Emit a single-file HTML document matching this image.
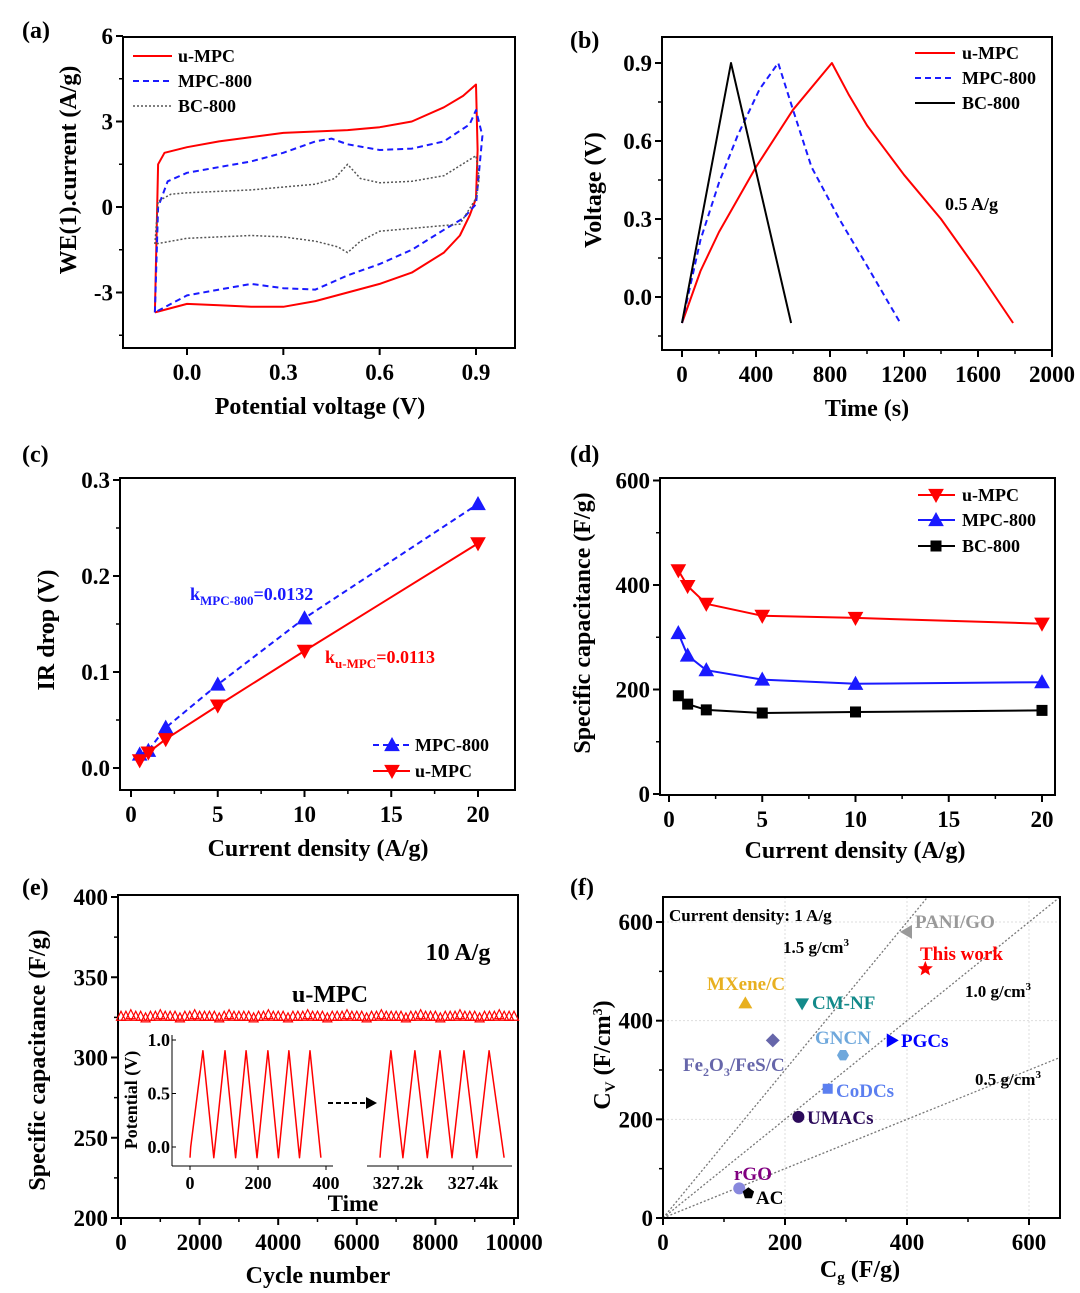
<!DOCTYPE html>
<html><head><meta charset="utf-8"><style>
body{margin:0;background:#fff;}
svg{display:block;font-family:"Liberation Serif",serif;font-weight:bold;}
</style></head><body>
<svg id="fig" width="1080" height="1293" viewBox="0 0 1080 1293" xmlns="http://www.w3.org/2000/svg"></svg>
<script>
// ---------- data ----------
// (a) CV loops
const cvUX=[-0.1,-0.09,-0.07,0,0.1,0.3,0.5,0.6,0.7,0.8,0.86,0.9,0.905,0.9,0.88,0.85,0.8,0.7,0.6,0.5,0.4,0.3,0.2,0.1,0,-0.1];
const cvUY=[-3.7,1.5,1.9,2.1,2.3,2.6,2.7,2.8,3.0,3.5,3.9,4.3,2.0,0.3,-0.3,-1.0,-1.6,-2.3,-2.7,-3.0,-3.3,-3.5,-3.5,-3.45,-3.4,-3.7];
const cvMX=[-0.1,-0.09,-0.06,0,0.1,0.2,0.3,0.4,0.45,0.5,0.6,0.7,0.8,0.88,0.9,0.92,0.9,0.86,0.8,0.7,0.6,0.5,0.4,0.3,0.2,0.1,0,-0.1];
const cvMY=[-3.7,0,0.9,1.2,1.4,1.6,1.9,2.3,2.4,2.2,2.0,2.05,2.3,2.9,3.4,2.5,0.1,-0.4,-0.8,-1.5,-2.0,-2.4,-2.9,-2.85,-2.7,-2.9,-3.1,-3.7];
const cvBX=[-0.1,-0.09,-0.05,0,0.2,0.4,0.46,0.5,0.54,0.6,0.7,0.8,0.9,0.91,0.9,0.85,0.7,0.6,0.54,0.5,0.47,0.4,0.3,0.2,0.1,0,-0.1];
const cvBY=[-1.3,0.2,0.45,0.5,0.6,0.8,1.0,1.5,1.0,0.85,0.9,1.1,1.8,1.0,0.3,-0.6,-0.75,-0.85,-1.2,-1.6,-1.4,-1.2,-1.05,-1.0,-1.05,-1.1,-1.3];
// (b) GCD
const gcdBX=[0,265,590], gcdBY=[-0.1,0.9,-0.1];
const gcdMX=[0,100,200,300,420,520,600,700,850,1000,1180];
const gcdMY=[-0.1,0.22,0.44,0.62,0.8,0.9,0.72,0.5,0.3,0.12,-0.1];
const gcdUX=[0,100,200,400,600,810,900,1000,1200,1400,1600,1790];
const gcdUY=[-0.1,0.1,0.25,0.5,0.72,0.9,0.78,0.66,0.47,0.3,0.1,-0.1];
// (c) IR drop
const cDens=[0.5,1,2,5,10,20];
const irMPC=[0.014,0.018,0.042,0.087,0.156,0.275];
const irU=[0.008,0.016,0.03,0.065,0.122,0.234];
// (d) specific capacitance
const dDens=[0.5,1,2,5,10,20];
const capU=[428,398,364,341,337,326];
const capM=[308,265,237,219,211,214];
const capB=[188,172,161,155,157,160];
// (e) cycling
const cycVals=[326,326,327,326,326,325,326,326,327,326,326,326,325,326,326,327,326,326,326,326,325,326,327,326,326,326,326,325,326,326,327,326,326,326,325,326,326,326,327,326,326,326,325,326,326,326,327,326,326,326,325,326,326,327,326,326,326,326,325,326,326,327,326,326,326,325,326,326,326,327,326,326,326,325,326,326,326,327,326,326,326];
const inLT=[0,2,38,70,103,134,165,197,229,260,291,322,353,385];
const inLV=[-0.1,0.0,0.9,-0.1,0.9,-0.1,0.9,-0.1,0.9,-0.1,0.9,-0.1,0.9,-0.1];
const inRT=[327152,327154,327181,327213,327245,327278,327312,327344,327376,327410,327443,327483];
const inRV=[-0.1,0.0,0.9,-0.1,0.9,-0.1,0.9,-0.1,0.9,-0.1,0.9,-0.1];
// (f) comparison
const fNames=["PANI/GO","This work","MXene/C","CM-NF","Fe2O3/FeS/C","GNCN","PGCs","CoDCs","UMACs","rGO","AC"];
const fCg=[400,430,135,228,180,295,375,270,222,125,140];
const fCv=[580,505,435,435,360,330,360,262,205,60,50];
const fDens=[1.5,1.0,0.5];

// ---------- helpers ----------
const NS="http://www.w3.org/2000/svg";
const svg=document.getElementById('fig');
const TF=23;
function mk(tag,attrs,name,inter,parent){
  const el=document.createElementNS(NS,tag);
  for(const k in attrs) el.setAttribute(k,attrs[k]);
  
  
  (parent||svg).appendChild(el);return el;
}
function txt(x,y,s,name,opt){
  opt=opt||{};
  const t=mk('text',{x:x,y:y,'font-size':opt.fs||TF,fill:opt.fill||'#000','text-anchor':opt.anchor||'start'},name,false);
  if(opt.rot) t.setAttribute('transform','rotate(-90 '+x+' '+y+')');
  t.innerHTML=s;return t;
}
function line(xs,ys,sx,sy,stroke,dash,name,w){
  const p=xs.map((v,i)=>sx(v).toFixed(1)+','+sy(ys[i]).toFixed(1)).join(' ');
  return mk('polyline',{points:p,fill:'none',stroke:stroke,'stroke-width':w||2,'stroke-dasharray':dash||'none','stroke-linejoin':'round'},name,false);
}
function frame(l,t,r,b,name){mk('rect',{x:l,y:t,width:r-l,height:b-t,fill:'none',stroke:'#000','stroke-width':2},name,false);}
function xTicks(vals,labels,sx,b,ly,name,minor){
  vals.forEach((v,i)=>{mk('line',{x1:sx(v),x2:sx(v),y1:b,y2:b+7,stroke:'#000','stroke-width':2},name+'-tick',false);
    txt(sx(v),ly,labels[i],name+'-label',{anchor:'middle'});});
  (minor||[]).forEach(v=>mk('line',{x1:sx(v),x2:sx(v),y1:b,y2:b+4,stroke:'#000','stroke-width':1.5},name+'-minor-tick',false));
}
function yTicks(vals,labels,sy,l,lx,name,minor){
  vals.forEach((v,i)=>{mk('line',{x1:l-7,x2:l,y1:sy(v),y2:sy(v),stroke:'#000','stroke-width':2},name+'-tick',false);
    txt(lx,sy(v)+8,labels[i],name+'-label',{anchor:'end'});});
  (minor||[]).forEach(v=>mk('line',{x1:l-4,x2:l,y1:sy(v),y2:sy(v),stroke:'#000','stroke-width':1.5},name+'-minor-tick',false));
}
function tri(x,y,s,up,fill,name){
  const d=up?`M${x},${y-s} L${x+s},${y+s*0.8} L${x-s},${y+s*0.8}Z`:`M${x},${y+s} L${x+s},${y-s*0.8} L${x-s},${y-s*0.8}Z`;
  return mk('path',{d:d,fill:fill,stroke:fill},name,false);
}

// ---------- (a) ----------
{const sx=v=>187+v*321.1, sy=v=>207-v*28.5;
frame(123,37,515,348,'panel-a-frame');
xTicks([0,0.3,0.6,0.9],['0.0','0.3','0.6','0.9'],sx,348,380,'a-x');
yTicks([6,3,0,-3],['6','3','0','-3'],sy,123,113,'a-y',[4.5,1.5,-1.5,-4.5]);
line(cvUX,cvUY,sx,sy,'#f00',null,'a-u-mpc-curve');
line(cvMX,cvMY,sx,sy,'#1a1aff','6,4','a-mpc-800-curve');
line(cvBX,cvBY,sx,sy,'#555','2,2','a-bc-800-curve',1.5);
mk('line',{x1:133,x2:172,y1:56,y2:56,stroke:'#f00','stroke-width':2},'a-legend-u-mpc-line',false);
mk('line',{x1:133,x2:172,y1:81,y2:81,stroke:'#1a1aff','stroke-width':2,'stroke-dasharray':'6,4'},'a-legend-mpc-line',false);
mk('line',{x1:133,x2:172,y1:106,y2:106,stroke:'#555','stroke-width':1.5,'stroke-dasharray':'2,2'},'a-legend-bc-line',false);
txt(178,62,'u-MPC','a-legend-u-mpc',{fs:18});txt(178,87,'MPC-800','a-legend-mpc-800',{fs:18});txt(178,112,'BC-800','a-legend-bc-800',{fs:18});
txt(320,414,'Potential voltage (V)','a-x-axis-title',{anchor:'middle',fs:24});
txt(76,170,'WE(1).current (A/g)','a-y-axis-title',{anchor:'middle',rot:1,fs:24});
txt(22,38,'(a)','panel-label-a',{fs:24});}

// ---------- (b) ----------
{const sx=v=>682+v*0.185, sy=v=>297-v*260;
frame(662,37,1052,350,'panel-b-frame');
xTicks([0,400,800,1200,1600,2000],['0','400','800','1200','1600','2000'],sx,350,382,'b-x',[200,600,1000,1400,1800]);
yTicks([0.9,0.6,0.3,0.0],['0.9','0.6','0.3','0.0'],sy,662,652,'b-y',[0.75,0.45,0.15,-0.15]);
line(gcdUX,gcdUY,sx,sy,'#f00',null,'b-u-mpc-curve');
line(gcdMX,gcdMY,sx,sy,'#1a1aff','6,4','b-mpc-800-curve');
line(gcdBX,gcdBY,sx,sy,'#000',null,'b-bc-800-curve');
mk('line',{x1:915,x2:955,y1:53,y2:53,stroke:'#f00','stroke-width':2},'b-legend-u-mpc-line',false);
mk('line',{x1:915,x2:955,y1:78,y2:78,stroke:'#1a1aff','stroke-width':2,'stroke-dasharray':'6,4'},'b-legend-mpc-line',false);
mk('line',{x1:915,x2:955,y1:103,y2:103,stroke:'#000','stroke-width':2},'b-legend-bc-line',false);
txt(962,59,'u-MPC','b-legend-u-mpc',{fs:18});txt(962,84,'MPC-800','b-legend-mpc-800',{fs:18});txt(962,109,'BC-800','b-legend-bc-800',{fs:18});
txt(945,210,'0.5 A/g','b-current-annotation',{fs:18});
txt(867,416,'Time (s)','b-x-axis-title',{anchor:'middle',fs:24});
txt(601,190,'Voltage (V)','b-y-axis-title',{anchor:'middle',rot:1,fs:24});
txt(570,48,'(b)','panel-label-b',{fs:24});}

// ---------- (c) ----------
{const sx=v=>131+v*17.35, sy=v=>768-v*960;
frame(120,478,515,790,'panel-c-frame');
xTicks([0,5,10,15,20],['0','5','10','15','20'],sx,790,822,'c-x',[2.5,7.5,12.5,17.5]);
yTicks([0.3,0.2,0.1,0.0],['0.3','0.2','0.1','0.0'],sy,120,110,'c-y',[0.25,0.15,0.05]);
line(cDens,irMPC,sx,sy,'#1a1aff','6,4','c-mpc-800-line');
line(cDens,irU,sx,sy,'#f00',null,'c-u-mpc-line');
cDens.forEach((d,i)=>tri(sx(d),sy(irMPC[i]),7,true,'#1a1aff','c-mpc-800-point'));
cDens.forEach((d,i)=>tri(sx(d),sy(irU[i]),7,false,'#f00','c-u-mpc-point'));
mk('line',{x1:373,x2:410,y1:745,y2:745,stroke:'#1a1aff','stroke-width':2,'stroke-dasharray':'6,4'},'c-legend-mpc-line',false);
tri(392,745,7,true,'#1a1aff','c-legend-mpc-marker');
mk('line',{x1:373,x2:410,y1:771,y2:771,stroke:'#f00','stroke-width':2},'c-legend-u-line',false);
tri(392,771,7,false,'#f00','c-legend-u-marker');
txt(415,751,'MPC-800','c-legend-mpc-800',{fs:18});txt(415,777,'u-MPC','c-legend-u-mpc',{fs:18});
txt(190,600,'k<tspan font-size="13" dy="5">MPC-800</tspan><tspan dy="-5">=0.0132</tspan>','c-slope-mpc-800',{fs:18,fill:'#1a1aff'});
txt(325,663,'k<tspan font-size="13" dy="5">u-MPC</tspan><tspan dy="-5">=0.0113</tspan>','c-slope-u-mpc',{fs:18,fill:'#f00'});
txt(318,856,'Current density (A/g)','c-x-axis-title',{anchor:'middle',fs:24});
txt(54,630,'IR drop (V)','c-y-axis-title',{anchor:'middle',rot:1,fs:24});
txt(22,462,'(c)','panel-label-c',{fs:24});}

// ---------- (d) ----------
{const sx=v=>669+v*18.65, sy=v=>794-v*0.5225;
frame(660,478,1055,795,'panel-d-frame');
xTicks([0,5,10,15,20],['0','5','10','15','20'],sx,795,827,'d-x',[2.5,7.5,12.5,17.5]);
yTicks([600,400,200,0],['600','400','200','0'],sy,660,650,'d-y',[500,300,100]);
line(dDens,capU,sx,sy,'#f00',null,'d-u-mpc-line');
line(dDens,capM,sx,sy,'#1a1aff',null,'d-mpc-800-line');
line(dDens,capB,sx,sy,'#000',null,'d-bc-800-line');
dDens.forEach((d,i)=>tri(sx(d),sy(capU[i]),7,false,'#f00','d-u-mpc-point'));
dDens.forEach((d,i)=>tri(sx(d),sy(capM[i]),7,true,'#1a1aff','d-mpc-800-point'));
dDens.forEach((d,i)=>mk('rect',{x:sx(d)-5.5,y:sy(capB[i])-5.5,width:11,height:11,fill:'#000'},'d-bc-800-point',false));
mk('line',{x1:918,x2:955,y1:495,y2:495,stroke:'#f00','stroke-width':2},'d-legend-u-line',false);
tri(936,495,7,false,'#f00','d-legend-u-marker');
mk('line',{x1:918,x2:955,y1:520,y2:520,stroke:'#1a1aff','stroke-width':2},'d-legend-mpc-line',false);
tri(936,520,7,true,'#1a1aff','d-legend-mpc-marker');
mk('line',{x1:918,x2:955,y1:546,y2:546,stroke:'#000','stroke-width':2},'d-legend-bc-line',false);
mk('rect',{x:930.5,y:540.5,width:11,height:11,fill:'#000'},'d-legend-bc-marker',false);
txt(962,501,'u-MPC','d-legend-u-mpc',{fs:18});txt(962,526,'MPC-800','d-legend-mpc-800',{fs:18});txt(962,552,'BC-800','d-legend-bc-800',{fs:18});
txt(855,858,'Current density (A/g)','d-x-axis-title',{anchor:'middle',fs:24});
txt(590,623,'Specific capacitance (F/g)','d-y-axis-title',{anchor:'middle',rot:1,fs:24});
txt(570,462,'(d)','panel-label-d',{fs:24});}

// ---------- (e) ----------
{const sx=v=>121+v*0.0393, sy=v=>1218-(v-200)*1.605;
frame(118,895,518,1218,'panel-e-frame');
xTicks([0,2000,4000,6000,8000,10000],['0','2000','4000','6000','8000','10000'],sx,1218,1250,'e-x',[1000,3000,5000,7000,9000]);
yTicks([400,350,300,250,200],['400','350','300','250','200'],sy,118,108,'e-y',[375,325,275,225]);
const step=10000/(cycVals.length-1);
cycVals.forEach((v,i)=>{const x=sx(i*step),y=sy(v);
  mk('path',{d:`M${x-4.5},${y+4.5} L${x},${y-4.5} L${x+4.5},${y+4.5}Z`,fill:'none',stroke:'#f00','stroke-width':1.2},'e-cycle-point',false);});
txt(458,960,'10 A/g','e-current-annotation',{anchor:'middle',fs:24});
txt(330,1002,'u-MPC','e-series-label',{anchor:'middle',fs:24});
// inset
const isy=v=>1147-v*107, ilx=t=>190+t*0.34, irx=t=>398+(t-327200)*0.375;
mk('line',{x1:172,x2:172,y1:1035,y2:1166,stroke:'#000','stroke-width':1},'e-inset-y-axis',false);
mk('line',{x1:172,x2:333,y1:1166,y2:1166,stroke:'#000','stroke-width':1},'e-inset-x-axis-left',false);
mk('line',{x1:367,x2:512,y1:1166,y2:1166,stroke:'#000','stroke-width':1},'e-inset-x-axis-right',false);
[1.0,0.5,0.0].forEach(v=>{mk('line',{x1:172,x2:176,y1:isy(v),y2:isy(v),stroke:'#000'},'e-inset-y-tick',false);
  txt(170,isy(v)+6,v.toFixed(1),'e-inset-y-label',{anchor:'end',fs:18});});
[0,200,400].forEach(v=>{mk('line',{x1:ilx(v),x2:ilx(v),y1:1166,y2:1170,stroke:'#000'},'e-inset-x-tick',false);
  txt(ilx(v),1189,String(v),'e-inset-x-label',{anchor:'middle',fs:18});});
[327200,327400].forEach(v=>{mk('line',{x1:irx(v),x2:irx(v),y1:1166,y2:1170,stroke:'#000'},'e-inset-x-tick',false);
  txt(irx(v),1189,(v/1000).toFixed(1)+'k','e-inset-x-label',{anchor:'middle',fs:18});});
line(inLT,inLV,ilx,isy,'#f00',null,'e-inset-gcd-initial',1.5);
line(inRT,inRV,irx,isy,'#f00',null,'e-inset-gcd-final',1.5);
mk('line',{x1:328,x2:368,y1:1103,y2:1103,stroke:'#000','stroke-width':2,'stroke-dasharray':'5,3'},'e-inset-arrow-line',false);
mk('path',{d:'M366,1097 L377,1103 L366,1109Z',fill:'#000'},'e-inset-arrow-head',false);
txt(137,1100,'Potential (V)','e-inset-y-title',{anchor:'middle',rot:1,fs:18});
txt(353,1211,'Time','e-inset-x-title',{anchor:'middle',fs:23});
txt(318,1283,'Cycle number','e-x-axis-title',{anchor:'middle',fs:24});
txt(45,1060,'Specific capacitance (F/g)','e-y-axis-title',{anchor:'middle',rot:1,fs:24});
txt(22,895,'(e)','panel-label-e',{fs:24});}

// ---------- (f) ----------
{const sx=v=>663+v*0.61, sy=v=>1218-v*0.4933;
[200,400,600].forEach(v=>{mk('line',{x1:sx(v),x2:sx(v),y1:897,y2:1218,stroke:'#ddd','stroke-dasharray':'2,2'},'f-grid-x',false);
  mk('line',{x1:663,x2:1060,y1:sy(v),y2:sy(v),stroke:'#ddd','stroke-dasharray':'2,2'},'f-grid-y',false);});
fDens.forEach(d=>{const xe=Math.min(650,650/d);
  mk('line',{x1:sx(0),y1:sy(0),x2:sx(xe),y2:sy(xe*d),stroke:'#777','stroke-width':1.3,'stroke-dasharray':'2,2'},'f-density-line',false);});
frame(663,897,1060,1218,'panel-f-frame');
xTicks([0,200,400,600],['0','200','400','600'],sx,1218,1250,'f-x',[100,300,500]);
yTicks([0,200,400,600],['0','200','400','600'],sy,663,653,'f-y',[100,300,500]);
const cols=['#999','#f00','#e8b020','#138a8a','#6666aa','#6fa8dc','#0000ff','#5b7ff0','#2b0a5a','#8888dd','#000'];
fCg.forEach((g,i)=>{const x=sx(g),y=sy(fCv[i]),c=cols[i];let d;
  switch(i){
    case 0:d=`M${x-7},${y} L${x+5},${y-7} L${x+5},${y+7}Z`;break;
    case 1:{let p=[];for(let k=0;k<10;k++){const r=k%2?3.5:8,a=-Math.PI/2+k*Math.PI/5;p.push((x+r*Math.cos(a)).toFixed(1)+','+(y+r*Math.sin(a)).toFixed(1));}d='M'+p.join(' L')+'Z';break;}
    case 2:d=`M${x},${y-7} L${x+7},${y+5} L${x-7},${y+5}Z`;break;
    case 3:d=`M${x},${y+7} L${x+7},${y-5} L${x-7},${y-5}Z`;break;
    case 4:d=`M${x},${y-7} L${x+7},${y} L${x},${y+7} L${x-7},${y}Z`;break;
    case 5:{let p=[];for(let k=0;k<6;k++){const a=k*Math.PI/3;p.push((x+6*Math.cos(a)).toFixed(1)+','+(y+6*Math.sin(a)).toFixed(1));}d='M'+p.join(' L')+'Z';break;}
    case 6:d=`M${x+7},${y} L${x-5},${y-7} L${x-5},${y+7}Z`;break;
    case 7:d=`M${x-5},${y-5} h10 v10 h-10Z`;break;
    case 10:{let p=[];for(let k=0;k<5;k++){const a=-Math.PI/2+k*2*Math.PI/5;p.push((x+6*Math.cos(a)).toFixed(1)+','+(y+6*Math.sin(a)).toFixed(1));}d='M'+p.join(' L')+'Z';break;}
    default:d=`M${x-6},${y} a6,6 0 1,0 12,0 a6,6 0 1,0 -12,0Z`;
  }
  mk('path',{d:d,fill:c},'f-point-'+fNames[i].toLowerCase().replace(/[^a-z0-9]+/g,'-'),false);});
const lbl=[[915,928,'PANI/GO','#999'],[920,960,'This work','#f00'],[707,990,'MXene/C','#e8b020'],[812,1009,'CM-NF','#138a8a'],
 [683,1071,'Fe<tspan font-size="12" dy="5">2</tspan><tspan dy="-5">O</tspan><tspan font-size="12" dy="5">3</tspan><tspan dy="-5">/FeS/C</tspan>','#6666aa'],
 [815,1044,'GNCN','#6fa8dc'],[901,1047,'PGCs','#0000ff'],[836,1097,'CoDCs','#5b7ff0'],[807,1124,'UMACs','#2b0a5a'],[734,1180,'rGO','#800080'],[756,1204,'AC','#000']];
lbl.forEach(l=>txt(l[0],l[1],l[2],'f-label',{fs:19,fill:l[3]}));
txt(669,921,'Current density: 1 A/g','f-current-annotation',{fs:17});
txt(783,953,'1.5 g/cm<tspan font-size="11" dy="-7">3</tspan>','f-density-label-1-5',{fs:17});
txt(965,997,'1.0 g/cm<tspan font-size="11" dy="-7">3</tspan>','f-density-label-1-0',{fs:17});
txt(975,1085,'0.5 g/cm<tspan font-size="11" dy="-7">3</tspan>','f-density-label-0-5',{fs:17});
txt(860,1277,'C<tspan font-size="15" dy="5">g</tspan><tspan dy="-5"> (F/g)</tspan>','f-x-axis-title',{anchor:'middle',fs:24});
txt(610,1055,'C<tspan font-size="15" dy="5">V</tspan><tspan dy="-5"> (F/cm</tspan><tspan font-size="14" dy="-8">3</tspan><tspan dy="8">)</tspan>','f-y-axis-title',{anchor:'middle',rot:1,fs:24});
txt(570,895,'(f)','panel-label-f',{fs:24});}
</script>
</body></html>
